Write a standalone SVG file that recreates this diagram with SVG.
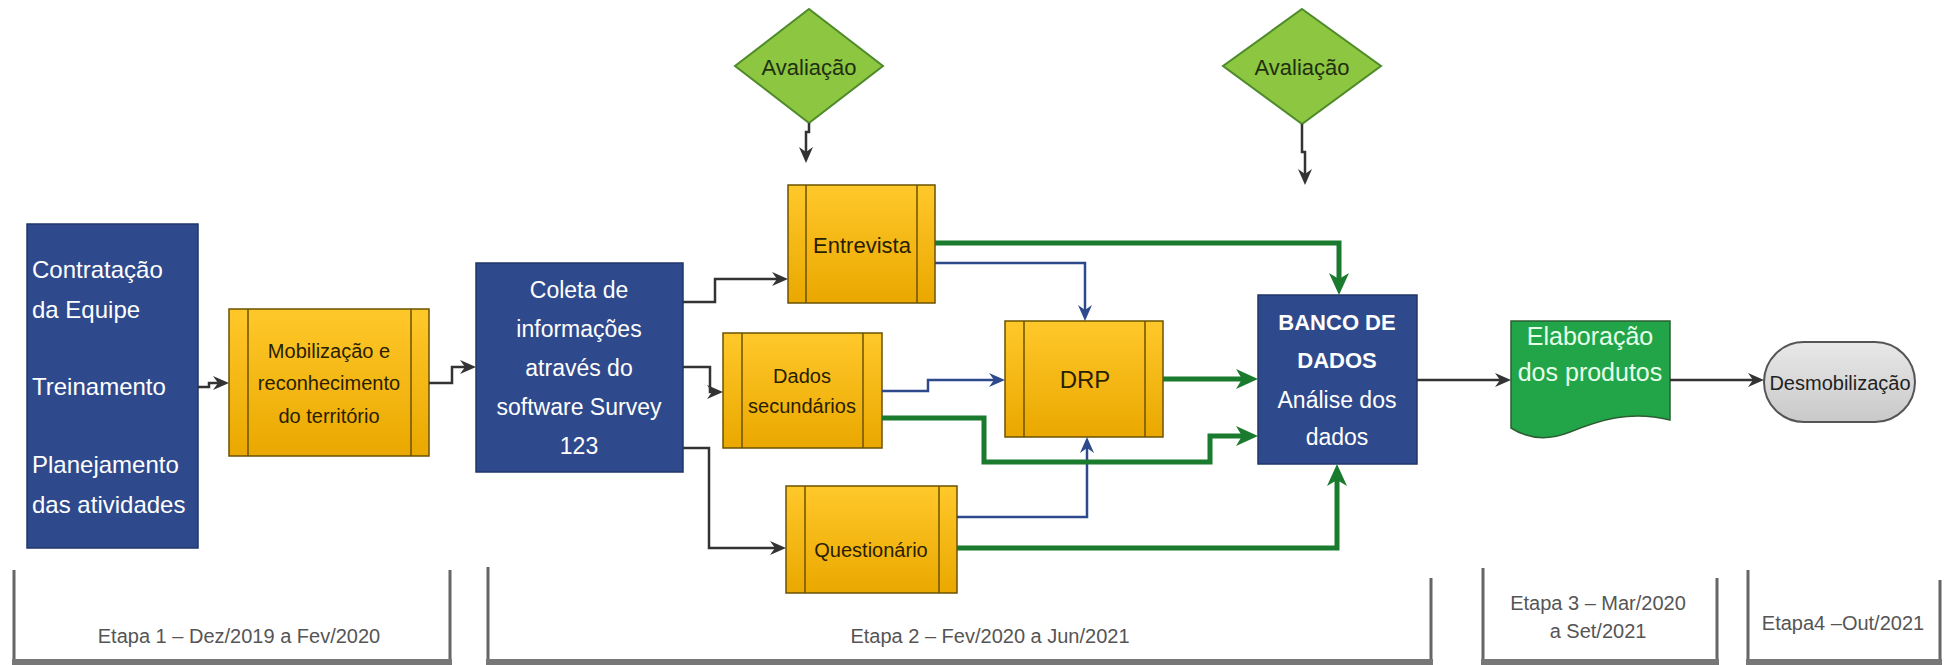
<svg xmlns="http://www.w3.org/2000/svg" width="1944" height="665" viewBox="0 0 1944 665">
<defs>
<linearGradient id="gy" x1="0" y1="0" x2="0" y2="1"><stop offset="0" stop-color="#ffc82a"/><stop offset="1" stop-color="#eaa800"/></linearGradient>
<linearGradient id="gg" x1="0" y1="0" x2="0" y2="1"><stop offset="0" stop-color="#e8e8e8"/><stop offset="1" stop-color="#c9c9c9"/></linearGradient>
<marker id="ad" viewBox="0 0 16 14" refX="5" refY="7" markerWidth="16" markerHeight="14" markerUnits="userSpaceOnUse" orient="auto"><path d="M0,0 L16,7 L0,14 L5,7 Z" fill="#333"/></marker>
<marker id="ab" viewBox="0 0 16 14" refX="5" refY="7" markerWidth="16" markerHeight="14" markerUnits="userSpaceOnUse" orient="auto"><path d="M0,0 L16,7 L0,14 L5,7 Z" fill="#2e4a8c"/></marker>
<marker id="ag" viewBox="0 0 22 20" refX="6" refY="10" markerWidth="22" markerHeight="20" markerUnits="userSpaceOnUse" orient="auto"><path d="M0,0 L22,10 L0,20 L6,10 Z" fill="#1a7a2e"/></marker>
</defs>
<style>
.navy{fill:#2f4a8c;stroke:#22366a;stroke-width:1.5}
.yel{fill:url(#gy);stroke:#6b5200;stroke-width:1.5}
.yl{stroke:#6b5200;stroke-width:1.5}
.dia{fill:#8dc641;stroke:#4e8a2a;stroke-width:2}
.t{font-family:"Liberation Sans",Arial,sans-serif}
.w{fill:#ffffff}
.dk{fill:#2a1e00}
.c{text-anchor:middle}
.cd{fill:none;stroke:#333;stroke-width:2.5;marker-end:url(#ad)}
.cb{fill:none;stroke:#2e4a8c;stroke-width:2.5;marker-end:url(#ab)}
.cg{fill:none;stroke:#1a7a2e;stroke-width:5;marker-end:url(#ag)}
.br{fill:none;stroke:#666;stroke-width:3}
.et{font-family:"Liberation Sans",Arial,sans-serif;font-size:20px;fill:#555;text-anchor:middle}
</style>

<g id="n-contratacao">
<rect class="navy" x="27" y="224" width="171" height="324"/>
<g class="t w" font-size="24">
<text x="32" y="278">Contratação</text>
<text x="32" y="318">da Equipe</text>
<text x="32" y="395">Treinamento</text>
<text x="32" y="473">Planejamento</text>
<text x="32" y="513">das atividades</text>
</g>
</g>

<g id="n-mobilizacao">
<rect class="yel" x="229" y="309" width="200" height="147"/>
<line class="yl" x1="248" y1="309" x2="248" y2="456"/><line class="yl" x1="411" y1="309" x2="411" y2="456"/>
<g class="t dk c" font-size="20">
<text x="329" y="358">Mobilização  e</text>
<text x="329" y="390">reconhecimento</text>
<text x="329" y="423">do território</text>
</g>
</g>

<g id="n-coleta">
<rect class="navy" x="476" y="263" width="207" height="209"/>
<g class="t w c" font-size="23">
<text x="579" y="298">Coleta de</text>
<text x="579" y="337">informações</text>
<text x="579" y="376">através do</text>
<text x="579" y="415">software Survey</text>
<text x="579" y="454">123</text>
</g>
</g>

<g id="n-avaliacao1">
<polygon class="dia" points="809,9 883,66 809,123 735,66"/>
<text class="t c" x="809" y="75" font-size="22" fill="#1f3010">Avaliação</text>
</g>

<g id="n-avaliacao2">
<polygon class="dia" points="1302,9 1381,66 1302,124 1223,66"/>
<text class="t c" x="1302" y="75" font-size="22" fill="#1f3010">Avaliação</text>
</g>

<g id="n-entrevista">
<rect class="yel" x="788" y="185" width="147" height="118"/>
<line class="yl" x1="806" y1="185" x2="806" y2="303"/><line class="yl" x1="917" y1="185" x2="917" y2="303"/>
<text class="t dk c" x="862" y="253" font-size="22">Entrevista</text>
</g>

<g id="n-dados">
<rect class="yel" x="723" y="333" width="159" height="115"/>
<line class="yl" x1="742" y1="333" x2="742" y2="448"/><line class="yl" x1="863" y1="333" x2="863" y2="448"/>
<g class="t dk c" font-size="20">
<text x="802" y="383">Dados</text>
<text x="802" y="413">secundários</text>
</g>
</g>

<g id="n-questionario">
<rect class="yel" x="786" y="486" width="171" height="107"/>
<line class="yl" x1="805" y1="486" x2="805" y2="593"/><line class="yl" x1="939" y1="486" x2="939" y2="593"/>
<text class="t dk c" x="871" y="557" font-size="20">Questionário</text>
</g>

<g id="n-drp">
<rect class="yel" x="1005" y="321" width="158" height="116"/>
<line class="yl" x1="1024" y1="321" x2="1024" y2="437"/><line class="yl" x1="1145" y1="321" x2="1145" y2="437"/>
<text class="t dk c" x="1085" y="388" font-size="24">DRP</text>
</g>

<g id="n-banco">
<rect class="navy" x="1258" y="295" width="159" height="169"/>
<g class="t w c">
<text x="1337" y="330" font-size="22" font-weight="bold">BANCO DE</text>
<text x="1337" y="368" font-size="22" font-weight="bold">DADOS</text>
<text x="1337" y="408" font-size="23">Análise dos</text>
<text x="1337" y="445" font-size="23">dados</text>
</g>
</g>

<g id="n-elaboracao">
<path d="M1511,321 H1670 V420 C1630,410 1600,420 1570,432 C1545,442 1525,437 1511,428 Z" fill="#22a548" stroke="#2d5e33" stroke-width="1.5"/>
<g class="t c" font-size="25" fill="#e6ffe8">
<text x="1590" y="345">Elaboração</text>
<text x="1590" y="381">dos produtos</text>
</g>
</g>

<g id="n-desmobilizacao">
<rect x="1764" y="342" width="151" height="80" rx="40" ry="40" fill="url(#gg)" stroke="#555" stroke-width="2"/>
<text class="t c" x="1840" y="390" font-size="20" fill="#222">Desmobilização</text>
</g>

<g id="connectors">
<path class="cd" d="M198,387 H209 V383 H218"/>
<path class="cd" d="M429,383 H452 V367 H465"/>
<path class="cd" d="M683,302 H715 V279 H777"/>
<path class="cd" d="M683,367 H710 V392 H712"/>
<path class="cd" d="M683,448 H709 V548 H775"/>
<path class="cd" d="M1417,380 H1500"/>
<path class="cd" d="M1670,380 H1753"/>
<path class="cd" d="M809,123 V132 H806 V152"/>
<path class="cd" d="M1302,124 V152 H1305 V174"/>
<path class="cb" d="M935,263 H1085 V310"/>
<path class="cb" d="M882,391 H928 V380 H994"/>
<path class="cb" d="M957,517 H1087 V448"/>
<path class="cg" d="M935,243 H1339 V279"/>
<path class="cg" d="M1163,379 H1242"/>
<path class="cg" d="M882,418 H984 V462 H1210 V436 H1242" stroke-width="4"/>
<path class="cg" d="M957,548 H1337 V480"/>
</g>

<g id="etapas">
<path class="br" d="M14,570 V661 M450,570 V661 M488,567 V661 M1431,578 V661 M1483,568 V661 M1717,578 V661 M1748,570 V661 M1940,580 V661"/>
<rect x="12" y="659" width="440" height="6" fill="#777"/>
<rect x="486" y="659" width="947" height="6" fill="#777"/>
<rect x="1481" y="659" width="238" height="6" fill="#777"/>
<rect x="1746" y="659" width="196" height="6" fill="#777"/>
<text class="et" x="239" y="643">Etapa 1 – Dez/2019 a Fev/2020</text>
<text class="et" x="990" y="643">Etapa 2 – Fev/2020 a Jun/2021</text>
<text class="et" x="1598" y="610">Etapa 3 – Mar/2020</text>
<text class="et" x="1598" y="638">a Set/2021</text>
<text class="et" x="1843" y="630">Etapa4 –Out/2021</text>
</g>
</svg>
